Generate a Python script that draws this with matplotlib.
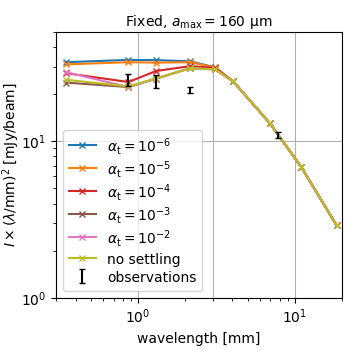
import matplotlib
matplotlib.use("Agg")
import matplotlib.pyplot as plt

# model wavelengths [mm]
wl = [0.35, 0.87, 1.3, 2.15, 3.1, 4.05, 6.95, 11.0, 18.5]

# I x (lambda/mm)^2 [mJy/beam]
alpha_1e6 = [32.0, 33.1, 33.0, 32.4, 29.7, 24.1, 13.0, 6.85, 2.9]
alpha_1e5 = [31.0, 32.0, 31.8, 32.0, 29.6, 24.1, 13.0, 6.85, 2.9]
alpha_1e4 = [27.2, 23.9, 28.1, 30.2, 29.4, 24.1, 13.0, 6.85, 2.9]
alpha_1e3 = [23.7, 22.2, 25.1, 29.3, 28.8, 24.1, 13.0, 6.85, 2.9]
alpha_1e2 = [27.6, 22.2, 25.1, 29.3, 28.8, 24.1, 13.0, 6.85, 2.9]
no_settling = [24.7, 22.4, 25.2, 29.3, 28.8, 24.1, 13.0, 6.85, 2.9]

# observations
obs_wl = [0.87, 1.3, 2.15, 7.85]
obs_val = [24.8, 24.2, 21.2, 11.0]
obs_err = [2.2, 2.4, 1.0, 0.5]

series = [
    (alpha_1e6, r"$\alpha_\mathrm{t} = 10^{-6}$", "C0"),
    (alpha_1e5, r"$\alpha_\mathrm{t} = 10^{-5}$", "C1"),
    (alpha_1e4, r"$\alpha_\mathrm{t} = 10^{-4}$", "C3"),
    (alpha_1e3, r"$\alpha_\mathrm{t} = 10^{-3}$", "C5"),
    (alpha_1e2, r"$\alpha_\mathrm{t} = 10^{-2}$", "C6"),
    (no_settling, "no settling", "C8"),
]

fig, ax = plt.subplots(figsize=(3.5, 3.5), dpi=100)
fig.subplots_adjust(left=0.160, right=0.977, top=0.909, bottom=0.149)

for vals, lab, col in series:
    ax.plot(wl, vals, marker="x", markersize=4, color=col, label=lab)

ax.errorbar(obs_wl, obs_val, yerr=obs_err, fmt="none", ecolor="k",
            elinewidth=1.5, capsize=2, label="observations", zorder=5)

ax.set_xscale("log")
ax.set_yscale("log")
ax.set_xlim(0.3, 20)
ax.set_ylim(1, 50)
ax.grid(which="major", color="#b0b0b0", linewidth=0.8)
ax.axvline(3, color="#b0b0b0", linewidth=0.8, zorder=0.5)
ax.set_axisbelow(True)

ax.set_xlabel("wavelength [mm]")
ax.set_ylabel(r"$I \times (\lambda/\mathrm{mm})^2$ [mJy/beam]")
ax.yaxis.set_label_coords(-0.118, 0.5)
ax.set_title(r"Fixed, $a_\mathrm{max} = 160$ µm", fontsize=10, pad=4)
ax.legend(loc="lower left", labelspacing=0.15, handleheight=1.4)

plt.savefig("out.png")
